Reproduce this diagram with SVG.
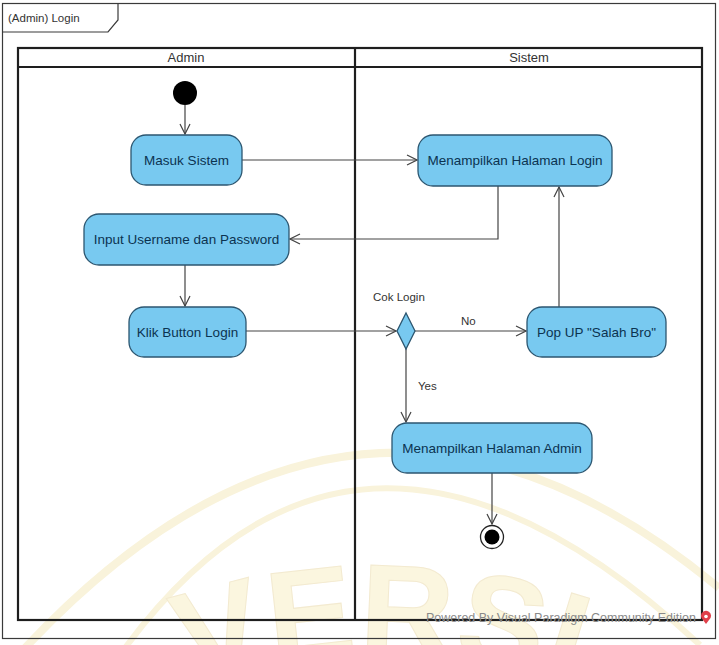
<svg xmlns="http://www.w3.org/2000/svg" width="719" height="645" viewBox="0 0 719 645">
  <style>
    .frame { fill: none; stroke: #3a3a3a; stroke-width: 1.2; }
    .lane { fill: none; stroke: #1e1e1e; stroke-width: 2.2; }
    .act { fill: #78c9f0; stroke: #2c5670; stroke-width: 1.3; }
    .atxt { font-family: "Liberation Sans", Arial, sans-serif; font-size: 13.5px; fill: #0b3350; text-anchor: middle; dominant-baseline: central; }
    .lbl { font-family: "Liberation Sans", Arial, sans-serif; font-size: 11.5px; fill: #333; }
    .hdr { font-family: "Liberation Sans", Arial, sans-serif; font-size: 13px; fill: #333; text-anchor: middle; }
    .flow { fill: none; stroke: #444; stroke-width: 1.2; }
    .band { fill: none; stroke: #f9f3db; }
    .wm { font-family: "Liberation Sans", Arial, sans-serif; font-size: 130px; font-weight: bold; fill: #fbf6df; stroke: #f3ead0; stroke-width: 1; }
  </style>
  <defs>
    <marker id="open" viewBox="0 0 12 12" refX="11" refY="6" markerWidth="12" markerHeight="12" markerUnits="userSpaceOnUse" orient="auto">
      <path d="M1,1 L11,6 L1,11" fill="none" stroke="#444" stroke-width="1.2"/>
    </marker>
    <path id="wmArc" d="M 0 791 A 600 600 0 0 1 760 791"/>
  </defs>

  <rect width="719" height="645" fill="#ffffff"/>

  <!-- faint background emblem -->
  <g id="watermark">
    <path class="band" stroke-width="8" d="M 25 648 Q 360 290 719 588"/>
    <path class="band" stroke-width="6" d="M 125 648 Q 360 330 700 645"/>
    <text class="wm"><textPath href="#wmArc" startOffset="50%" text-anchor="middle">VERSI</textPath></text>
  </g>

  <!-- diagram frame with name tab -->
  <g id="frame">
    <rect class="frame" x="2.5" y="3.5" width="713" height="635"/>
    <path class="frame" d="M2.5,32 L108,32 L118,20 L118,3.5"/>
    <text class="lbl" x="8" y="22" font-size="14.5">(Admin) Login</text>
  </g>

  <!-- swimlanes -->
  <g id="lanes">
    <rect class="lane" x="18" y="48" width="684" height="572"/>
    <line class="lane" x1="18" y1="67" x2="702" y2="67"/>
    <line class="lane" x1="355" y1="48" x2="355" y2="620"/>
    <text class="hdr" x="186" y="62">Admin</text>
    <text class="hdr" x="529" y="62">Sistem</text>
  </g>

  <!-- connectors -->
  <g id="connectors">
    <line class="flow" x1="185" y1="105" x2="185" y2="134" marker-end="url(#open)"/>
    <line class="flow" x1="242" y1="160" x2="417" y2="160" marker-end="url(#open)"/>
    <polyline class="flow" points="498,186 498,239 290,239" marker-end="url(#open)"/>
    <line class="flow" x1="185" y1="265" x2="185" y2="306" marker-end="url(#open)"/>
    <line class="flow" x1="246" y1="331" x2="396" y2="331" marker-end="url(#open)"/>
    <line class="flow" x1="415" y1="331" x2="526" y2="331" marker-end="url(#open)"/>
    <line class="flow" x1="559" y1="307" x2="559" y2="187" marker-end="url(#open)"/>
    <line class="flow" x1="406" y1="348" x2="406" y2="422" marker-end="url(#open)"/>
    <line class="flow" x1="492" y1="473" x2="492" y2="524" marker-end="url(#open)"/>
    <text class="lbl" x="373" y="301">Cok Login</text>
    <text class="lbl" x="461" y="325">No</text>
    <text class="lbl" x="418" y="390">Yes</text>
  </g>

  <!-- nodes -->
  <g id="start">
    <circle cx="185" cy="93" r="12" fill="#000"/>
  </g>
  <g id="masuk-sistem">
    <rect class="act" x="131" y="135" width="111" height="50" rx="15"/>
    <text class="atxt" x="186.5" y="160">Masuk Sistem</text>
  </g>
  <g id="halaman-login">
    <rect class="act" x="418" y="135" width="194" height="51" rx="15"/>
    <text class="atxt" x="515" y="160.5">Menampilkan Halaman Login</text>
  </g>
  <g id="input-user">
    <rect class="act" x="84" y="214" width="205" height="51" rx="15"/>
    <text class="atxt" x="186.5" y="239.5">Input Username dan Password</text>
  </g>
  <g id="klik-button">
    <rect class="act" x="129" y="307" width="117" height="50" rx="15"/>
    <text class="atxt" x="187.5" y="332">Klik Button Login</text>
  </g>
  <g id="cek-login">
    <polygon class="act" points="406,313 415,331 406,349 397,331"/>
  </g>
  <g id="popup">
    <rect class="act" x="527" y="307" width="139" height="50" rx="15"/>
    <text class="atxt" x="596.5" y="332">Pop UP "Salah Bro"</text>
  </g>
  <g id="halaman-admin">
    <rect class="act" x="392" y="423" width="200" height="50" rx="15"/>
    <text class="atxt" x="492" y="448">Menampilkan Halaman Admin</text>
  </g>
  <g id="end">
    <circle cx="492" cy="537" r="11.5" fill="#fff" stroke="#222" stroke-width="1.3"/>
    <circle cx="492" cy="537" r="7.5" fill="#000"/>
  </g>

  <!-- tool footer -->
  <g id="footer">
    <text x="696" y="622" font-family="'Liberation Sans', Arial, sans-serif" font-size="12.5" fill="#8a8a8a" text-anchor="end">Powered By Visual Paradigm Community Edition</text>
    <path d="M706,624 L701.5,618 A5,5 0 1 1 710.5,618 Z" fill="#e0404a"/>
    <circle cx="706" cy="616.5" r="1.8" fill="#fff"/>
  </g>
</svg>
